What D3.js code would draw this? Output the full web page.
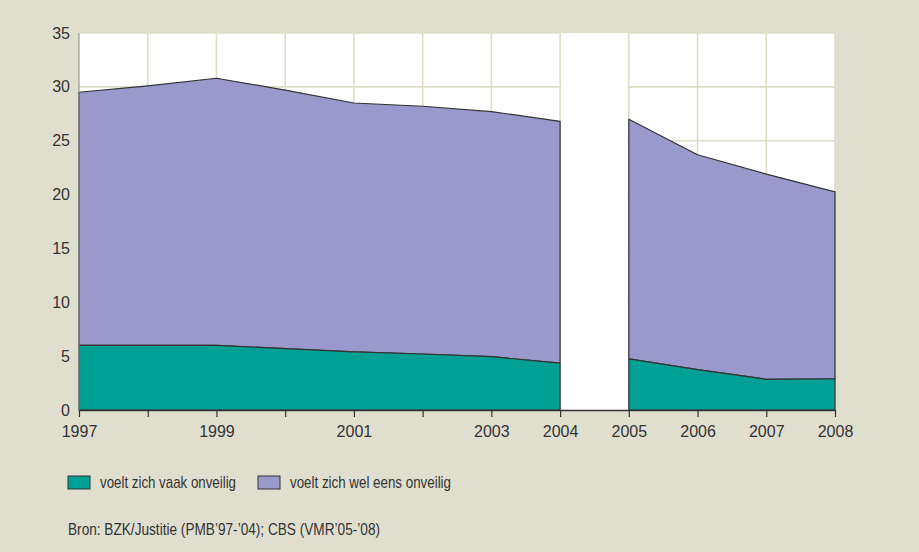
<!DOCTYPE html>
<html><head><meta charset="utf-8">
<script src="https://cdn.jsdelivr.net/npm/d3@7"></script>
<style>html,body{margin:0;padding:0;background:#e0dfcf;}</style>
</head><body>
<svg id="c" width="919" height="552"></svg>
<script>
const years = [1997,1998,1999,2000,2001,2002,2003,2004,2005,2006,2007,2008];
const vaak = [6.0,6.0,6.0,5.7,5.4,5.2,4.95,4.35,4.75,3.75,2.85,2.9];
const welEens = [23.5,24.1,24.8,24.0,23.1,23.0,22.75,22.45,22.25,19.95,19.05,17.35];
const tickLabels = ["1997","","1999","","2001","","2003","2004","2005","2006","2007","2008"];
const yTicks = [0,5,10,15,20,25,30,35];
const seriesNames = ["voelt zich vaak onveilig","voelt zich wel eens onveilig"];
const source = "Bron: BZK/Justitie (PMB\u201997-\u201904); CBS (VMR\u201905-\u201908)";
const gapYears = [2004,2005];

const svg = d3.select("#c");
const x = d3.scaleLinear().domain([1997,2008]).range([79,835]);
const y = d3.scaleLinear().domain([0,35]).range([410,33]);
const colors = ["#00a094","#9999cc"];
const grid = "#dedcc8";

svg.append("rect").attr("width",919).attr("height",552).attr("fill","#e0dfcf");
svg.append("rect").attr("x",x(1997)).attr("y",y(35)).attr("width",x(2008)-x(1997)).attr("height",y(0)-y(35)).attr("fill","#fff");

// gridlines
svg.append("g").selectAll("line.h").data(yTicks.filter(d=>d>0)).join("line")
  .attr("x1",x(1997)).attr("x2",x(2008)).attr("y1",d=>y(d)).attr("y2",d=>y(d))
  .attr("stroke",grid).attr("stroke-width",1.6);
svg.append("g").selectAll("line.v").data(years.slice(1)).join("line")
  .attr("x1",d=>x(d)).attr("x2",d=>x(d)).attr("y1",y(35)).attr("y2",y(0))
  .attr("stroke",grid).attr("stroke-width",1.6);
// gap covers horizontal gridlines
svg.append("rect").attr("x",x(gapYears[0])+1).attr("y",y(35)).attr("width",x(gapYears[1])-x(gapYears[0])-2).attr("height",y(0)-y(35)).attr("fill","#fff");

const data = years.map((yr,i)=>({year:yr, vaak:vaak[i], wel:welEens[i]}));
const stack = d3.stack().keys(["vaak","wel"]);
const segs = [data.filter(d=>d.year<=gapYears[0]), data.filter(d=>d.year>=gapYears[1])];
const area = d3.area().x(d=>x(d.data.year)).y0(d=>y(d[0])).y1(d=>y(d[1]));
segs.forEach(seg=>{
  const st = stack(seg);
  svg.append("path").datum(st[1]).attr("d",area).attr("fill",colors[1]).attr("stroke","#333").attr("stroke-width",1.2).attr("stroke-linejoin","round");
  svg.append("path").datum(st[0]).attr("d",area).attr("fill",colors[0]).attr("stroke","#333").attr("stroke-width",1.2).attr("stroke-linejoin","round");
});

// left axis line
svg.append("line").attr("x1",x(1997)).attr("x2",x(1997)).attr("y1",y(35)).attr("y2",y(0)).attr("stroke","#888").attr("stroke-width",1);

// bottom axis
const xAxis = d3.axisBottom(x).tickValues(years).tickFormat((d,i)=>tickLabels[i]).tickSize(7).tickSizeOuter(0).tickPadding(9);
const gx = svg.append("g").attr("transform",`translate(0,${y(0)})`).call(xAxis);
gx.select(".domain").attr("stroke","#333").attr("stroke-width",1.5);
gx.selectAll(".tick line").attr("stroke","#333").attr("stroke-width",1.2);
gx.selectAll(".tick text").attr("font-family","Liberation Sans, Arial, sans-serif").attr("font-size",16).attr("fill","#333");

const yAxis = d3.axisLeft(y).tickValues(yTicks).tickSize(0).tickPadding(9);
const gy = svg.append("g").attr("transform",`translate(${x(1997)},0)`).call(yAxis);
gy.select(".domain").remove();
gy.selectAll(".tick text").attr("font-family","Liberation Sans, Arial, sans-serif").attr("font-size",16).attr("fill","#333");

// legend
const lg = svg.append("g").attr("font-family","'Liberation Sans', Arial, sans-serif").attr("font-size",17).attr("fill","#333");
const lx = [68,258];
const lw = [136,161];
seriesNames.forEach((n,i)=>{
  lg.append("rect").attr("x",lx[i]).attr("y",476).attr("width",22).attr("height",13).attr("fill",colors[i]).attr("stroke","#333").attr("stroke-width",1);
  lg.append("text").attr("x",lx[i]+32).attr("y",488).attr("textLength",lw[i]).attr("lengthAdjust","spacingAndGlyphs").text(n);
});
lg.append("text").attr("x",68).attr("y",535).attr("textLength",312).attr("lengthAdjust","spacingAndGlyphs").text(source);
</script>
</body></html>
